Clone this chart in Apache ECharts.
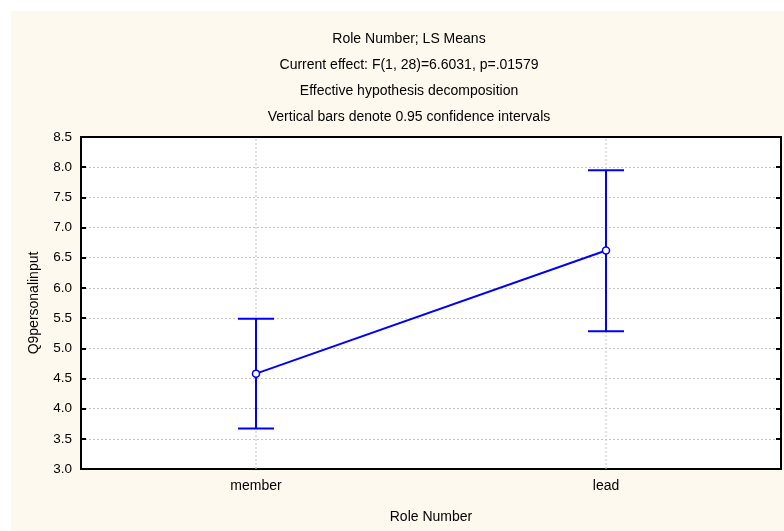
<!DOCTYPE html>
<html>
<head>
<meta charset="utf-8">
<script src="https://cdn.jsdelivr.net/npm/echarts@6/dist/echarts.min.js"></script>
<style>
  html, body { margin: 0; padding: 0; background: #ffffff; }
  #chart { width: 784px; height: 531px; }
</style>
</head>
<body>
<div id="chart"></div>
<script>
// LS means of Q9personalinput by role, with 0.95 confidence limits
const categories = ['member', 'lead'];
const means = [4.58, 6.62];
const lowerCI = [3.67, 5.28];
const upperCI = [5.49, 7.95];

const yMin = 3.0;
const yMax = 8.5;
const yStep = 0.5;

const titleLines = [
  'Role Number; LS Means',
  'Current effect: F(1, 28)=6.6031, p=.01579',
  'Effective hypothesis decomposition',
  'Vertical bars denote 0.95 confidence intervals'
];

const FONT = '"Liberation Sans", Arial, sans-serif';
const BLUE = '#0000ff';
const GRID_LINE = { color: '#c4c4c4', width: 1, type: [2, 2] };

const chart = echarts.init(document.getElementById('chart'), null, { renderer: 'canvas' });

const titleTops = [27, 53.5, 79, 105];

const option = {
  backgroundColor: '#ffffff',
  animation: false,
  graphic: [{
    type: 'rect',
    left: 11, top: 11,
    shape: { width: 773, height: 520 },
    style: { fill: '#fef9ef' },
    z: -10
  }],
  title: titleLines.map((t, i) => ({
    text: t,
    left: 404,
    top: titleTops[i],
    textAlign: 'center',
    textStyle: { fontFamily: FONT, fontSize: 14, fontWeight: 'normal', color: '#000' }
  })),
  grid: {
    left: 81, right: 3, top: 137, bottom: 62,
    show: true, backgroundColor: '#ffffff', borderWidth: 0
  },
  xAxis: [{
    type: 'category',
    data: categories,
    position: 'bottom',
    name: 'Role Number',
    nameLocation: 'middle',
    nameGap: 41,
    nameTextStyle: { fontFamily: FONT, fontSize: 14, color: '#000' },
    axisLine: { lineStyle: { color: '#000', width: 2 } },
    axisTick: { inside: true, length: 4, alignWithLabel: true, lineStyle: { color: '#000', width: 2 } },
    axisLabel: { fontFamily: FONT, fontSize: 14, color: '#000', margin: 10 },
    splitLine: { show: false }
  }, {
    type: 'category',
    data: categories,
    position: 'top',
    axisLine: { lineStyle: { color: '#000', width: 2 } },
    axisTick: { inside: true, length: 4, alignWithLabel: true, lineStyle: { color: '#000', width: 2 } },
    axisLabel: { show: false },
    splitLine: { show: false }
  }],
  yAxis: [{
    type: 'value',
    min: yMin, max: yMax, interval: yStep,
    position: 'left',
    name: 'Q9personalinput',
    nameLocation: 'middle',
    nameGap: 40,
    nameTextStyle: { fontFamily: FONT, fontSize: 14, color: '#000' },
    axisLine: { show: true, lineStyle: { color: '#000', width: 2 } },
    axisTick: { show: true, inside: true, length: 5, lineStyle: { color: '#000', width: 2 } },
    axisLabel: {
      fontFamily: FONT, fontSize: 13.5, color: '#000', margin: 9,
      formatter: v => v.toFixed(1)
    },
    splitLine: { show: true, lineStyle: GRID_LINE }
  }, {
    type: 'value',
    min: yMin, max: yMax, interval: yStep,
    position: 'right',
    axisLine: { show: true, lineStyle: { color: '#000', width: 2 } },
    axisTick: { show: true, inside: true, length: 5, lineStyle: { color: '#000', width: 2 } },
    axisLabel: { show: false },
    splitLine: { show: false }
  }],
  series: [{
    // vertical reference lines through each category
    type: 'custom',
    silent: true,
    z: 1,
    data: categories.map((c, i) => [i]),
    renderItem: (params, api) => {
      const x = api.value(0);
      const a = api.coord([x, yMin]);
      const b = api.coord([x, yMax]);
      return {
        type: 'line',
        shape: { x1: a[0], y1: a[1], x2: b[0], y2: b[1] },
        style: { stroke: GRID_LINE.color, lineWidth: 1, lineDash: [2, 2] }
      };
    }
  }, {
    // confidence interval whiskers
    type: 'custom',
    z: 3,
    data: categories.map((c, i) => [i, lowerCI[i], upperCI[i]]),
    renderItem: (params, api) => {
      const x = api.value(0);
      const lo = api.coord([x, api.value(1)]);
      const hi = api.coord([x, api.value(2)]);
      const half = 18;
      const style = { stroke: BLUE, lineWidth: 2 };
      return {
        type: 'group',
        children: [
          { type: 'line', shape: { x1: lo[0], y1: lo[1], x2: hi[0], y2: hi[1] }, style },
          { type: 'line', shape: { x1: hi[0] - half, y1: hi[1], x2: hi[0] + half, y2: hi[1] }, style },
          { type: 'line', shape: { x1: lo[0] - half, y1: lo[1], x2: lo[0] + half, y2: lo[1] }, style }
        ]
      };
    }
  }, {
    // LS means
    type: 'line',
    z: 5,
    data: means,
    symbol: 'circle',
    symbolSize: 7,
    lineStyle: { color: BLUE, width: 2 },
    itemStyle: { color: '#ffffff', borderColor: BLUE, borderWidth: 1.5 }
  }]
};

chart.setOption(option);
</script>
</body>
</html>
